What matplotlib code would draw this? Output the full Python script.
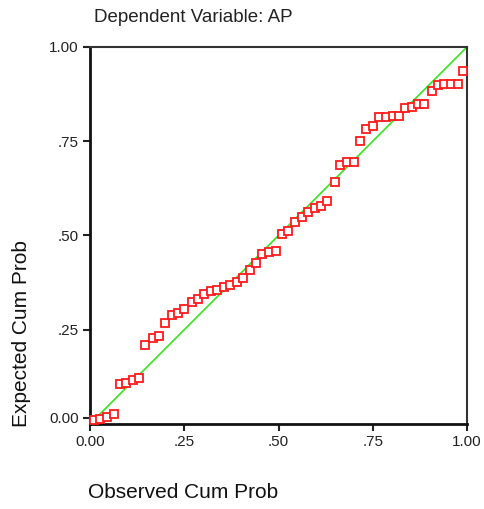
import numpy as np
import matplotlib
matplotlib.use('Agg')
import matplotlib.pyplot as plt
import matplotlib.transforms as mtransforms

plt.rcParams['font.family'] = ['Liberation Sans', 'DejaVu Sans']

# observed / expected cumulative probabilities
observed = [0.011, 0.027, 0.044, 0.064, 0.079, 0.096, 0.115, 0.131, 0.147, 0.166,
            0.183, 0.199, 0.218, 0.234, 0.250, 0.271, 0.286, 0.303, 0.321, 0.337,
            0.355, 0.372, 0.389, 0.406, 0.425, 0.441, 0.457, 0.476, 0.493, 0.508,
            0.524, 0.545, 0.561, 0.577, 0.596, 0.612, 0.629, 0.649, 0.664, 0.682,
            0.700, 0.715, 0.732, 0.751, 0.767, 0.784, 0.804, 0.820, 0.836, 0.855,
            0.871, 0.887, 0.906, 0.922, 0.939, 0.958, 0.975, 0.990]
expected = [0.011, 0.014, 0.019, 0.026, 0.106, 0.110, 0.117, 0.121, 0.209, 0.229,
            0.233, 0.269, 0.288, 0.294, 0.304, 0.324, 0.332, 0.344, 0.353, 0.355,
            0.364, 0.368, 0.376, 0.388, 0.408, 0.428, 0.451, 0.456, 0.460, 0.504,
            0.512, 0.536, 0.548, 0.563, 0.572, 0.579, 0.591, 0.643, 0.687, 0.694,
            0.694, 0.751, 0.782, 0.790, 0.814, 0.814, 0.818, 0.818, 0.837, 0.842,
            0.850, 0.850, 0.882, 0.899, 0.902, 0.902, 0.902, 0.937]
ticks = [0, 0.25, 0.5, 0.75, 1.0]
tick_labels = ['0.00', '.25', '.50', '.75', '1.00']

fig = plt.figure(figsize=(4.85, 5.09), dpi=100)
ax = fig.add_axes([0.1856, 0.167, 0.7773, 0.7407])

ax.plot([0, 1], [0, 1], color='#33e61a', lw=1.2, zorder=2)
ax.plot(observed, expected, 's', ms=6, mfc='white', mec='#ff1a1a', mew=1.3,
        zorder=3, clip_on=False)

ax.set_xlim(0, 1)
ax.set_ylim(0, 1)
ax.set_xticks(ticks)
ax.set_xticklabels(tick_labels)
ax.set_yticks(ticks)
ax.set_yticklabels(tick_labels)
ax.tick_params(direction='out', length=5, width=1.5, labelsize=11,
               colors='#222222', pad=3)

# SPSS draws the 0.00 y tick a few pixels above the corner
up = mtransforms.ScaledTranslation(0, 6 / 100, fig.dpi_scale_trans)
t0 = ax.yaxis.get_major_ticks()[0]
t0.tick1line.set_transform(t0.tick1line.get_transform() + up)
t0.label1.set_transform(t0.label1.get_transform() + up)

for s in ['left', 'bottom']:
    ax.spines[s].set_linewidth(2)
    ax.spines[s].set_color('#111111')
for s in ['top', 'right']:
    ax.spines[s].set_linewidth(1.5)
    ax.spines[s].set_color('#333333')

fig.text(94 / 485, 1 - 18 / 509, 'Dependent Variable: AP', fontsize=13.5,
         ha='left', va='center', color='#222222')
fig.text(183 / 485, 1 - 493 / 509, 'Observed Cum Prob', fontsize=15,
         ha='center', va='center', color='#111111')
fig.text(22 / 485, 1 - 334 / 509, 'Expected Cum Prob', fontsize=15,
         ha='center', va='center', rotation=90, color='#111111')

fig.savefig('out.png', dpi=100)
